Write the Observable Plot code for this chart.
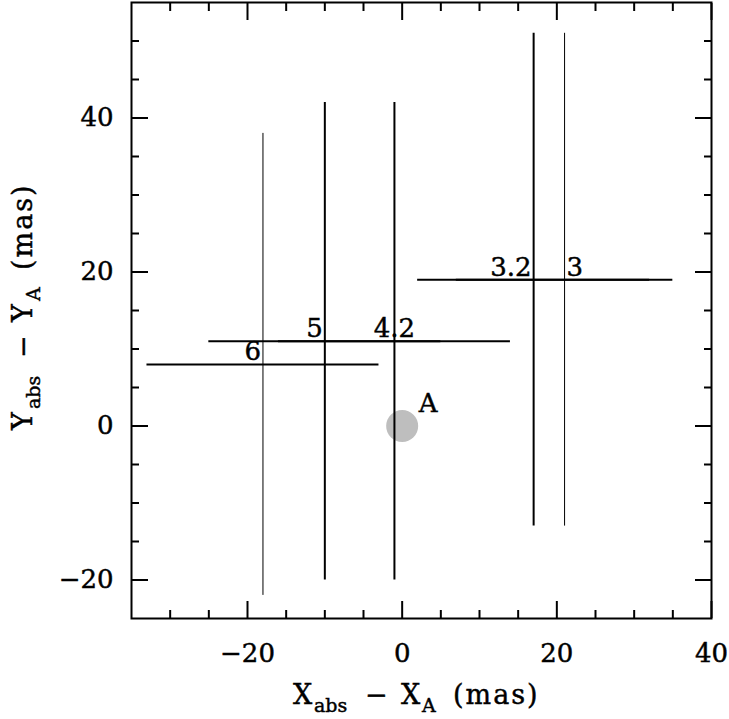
<!DOCTYPE html>
<html><head><meta charset="utf-8">
<script src="https://cdn.jsdelivr.net/npm/d3@7"></script>
<script src="https://cdn.jsdelivr.net/npm/@observablehq/plot@0.6"></script>
<style>
html,body{margin:0;padding:0;background:#fff;}
#chart svg{display:block;}
#chart svg text{stroke:black;stroke-width:0.45px;}
</style></head><body><div id="chart"></div>
<script>
// Measured positions (mas) relative to component A
const labels = ["6", "5", "4.2", "3.2", "3"];
const xs = [-18, -10, -1, 17, 21];
const ys = [8, 11, 11, 19, 19];
const xErr = [15, 15, 15, 15, 14];
const yErr = [30, 31, 31, 32, 32];
const refLabel = ["A"];
const refX = [0];
const refY = [0];
// Axis ticks
const xTicks = [-20, 0, 20, 40];
const yTicks = [-20, 0, 20, 40];
const xMinorTicks = [-30, -25, -15, -10, -5, 5, 10, 15, 25, 30, 35];
const yMinorTicks = [-15, -10, -5, 5, 10, 15, 25, 30, 35, 45, 50];

const pts = labels.map((label, i) => ({
  label, x: xs[i], y: ys[i],
  x1: xs[i] - xErr[i], x2: xs[i] + xErr[i],
  y1: ys[i] - yErr[i], y2: ys[i] + yErr[i]
}));
const ref = refLabel.map((label, i) => ({label, x: refX[i], y: refY[i]}));

const thin = new Set(["6", "3"]);
const fmt = d => d < 0 ? "\u2212" + Math.abs(d) : String(d);
const FONT = "DejaVu Serif";
const FS = 26;
const noText = () => "";

const plot = Plot.plot({
  width: 729, height: 719,
  marginLeft: 131, marginRight: 18, marginTop: 2, marginBottom: 101,
  style: {fontFamily: FONT, fontSize: FS + "px", color: "black", background: "white"},
  x: {domain: [-35, 40], label: null},
  y: {domain: [-25, 55], label: null},
  marks: [
    Plot.dot(ref, {x: "x", y: "y", r: 16, fill: "#bebebe", stroke: "none"}),
    Plot.ruleX(pts.filter(d => thin.has(d.label)), {x: "x", y1: "y1", y2: "y2", stroke: "black", strokeWidth: 1}),
    Plot.ruleX(pts.filter(d => !thin.has(d.label)), {x: "x", y1: "y1", y2: "y2", stroke: "black", strokeWidth: 2}),
    Plot.ruleY(pts, {y: "y", x1: "x1", x2: "x2", stroke: "black", strokeWidth: 2}),
    Plot.text(pts.filter(d => d.label === "6" || d.label === "5" || d.label === "3.2"),
      {x: "x", y: "y", text: "label", textAnchor: "end", lineAnchor: "bottom", dx: -2, dy: -4, fontSize: FS, fill: "black"}),
    Plot.text(pts.filter(d => d.label === "4.2"),
      {x: "x", y: "y", text: "label", textAnchor: "middle", lineAnchor: "bottom", dy: -4, fontSize: FS, fill: "black"}),
    Plot.text(pts.filter(d => d.label === "3"),
      {x: "x", y: "y", text: "label", textAnchor: "start", lineAnchor: "bottom", dx: 2, dy: -4, fontSize: FS, fill: "black"}),
    Plot.text(ref, {x: "x", y: "y", text: "label", textAnchor: "middle", lineAnchor: "bottom", dx: 26, dy: -14, fontSize: FS, fill: "black"}),
    // tick labels
    Plot.axisX({anchor: "bottom", ticks: xTicks, tickSize: 0, tickPadding: 25, tickFormat: fmt, fontSize: FS, label: null}),
    Plot.axisY({anchor: "left", ticks: yTicks, tickSize: 0, tickPadding: 18, tickFormat: fmt, fontSize: FS, label: null}),
    // inward major ticks
    Plot.axisX({anchor: "bottom", ticks: xTicks, tickSize: -17, strokeWidth: 2, fill: "none", tickFormat: noText, label: null}),
    Plot.axisX({anchor: "top", ticks: xTicks, tickSize: -17, strokeWidth: 2, fill: "none", tickFormat: noText, label: null}),
    Plot.axisY({anchor: "left", ticks: yTicks, tickSize: -17, strokeWidth: 2, fill: "none", tickFormat: noText, label: null}),
    Plot.axisY({anchor: "right", ticks: yTicks, tickSize: -17, strokeWidth: 2, fill: "none", tickFormat: noText, label: null}),
    // inward minor ticks
    Plot.axisX({anchor: "bottom", ticks: xMinorTicks, tickSize: -8, strokeWidth: 2, fill: "none", tickFormat: noText, label: null}),
    Plot.axisX({anchor: "top", ticks: xMinorTicks, tickSize: -8, strokeWidth: 2, fill: "none", tickFormat: noText, label: null}),
    Plot.axisY({anchor: "left", ticks: yMinorTicks, tickSize: -8, strokeWidth: 2, fill: "none", tickFormat: noText, label: null}),
    Plot.axisY({anchor: "right", ticks: yMinorTicks, tickSize: -8, strokeWidth: 2, fill: "none", tickFormat: noText, label: null}),
    Plot.frame({stroke: "black", strokeWidth: 2})
  ]
});

// Axis titles with subscripts
const svg = d3.select(plot);
function title(g, main, sub2) {
  const t = g.append("text")
    .attr("font-family", FONT).attr("font-size", 27).attr("fill", "black")
    .attr("text-anchor", "start");
  const parts = [
    {s: main, x: 0, size: 27, dy: 0},
    {s: "abs", x: 21, size: 19, dy: 8},
    {s: "\u2212", x: 72, size: 27, dy: 0},
    {s: main, x: 108, size: 27, dy: 0},
    {s: sub2, x: 129, size: 19, dy: 8},
    {s: "(mas)", x: 160, size: 27, dy: 0, ls: 2}
  ];
  parts.forEach(p => {
    const ts = t.append("tspan").attr("x", p.x).attr("y", p.dy).attr("font-size", p.size).text(p.s);
    if (p.ls) ts.attr("letter-spacing", p.ls);
  });
  return t;
}
title(svg.append("g").attr("transform", "translate(293,704)"), "X", "A");
title(svg.append("g").attr("transform", "translate(32,430) rotate(-90)"), "Y", "A");

document.getElementById("chart").appendChild(plot);
</script>
</body></html>
